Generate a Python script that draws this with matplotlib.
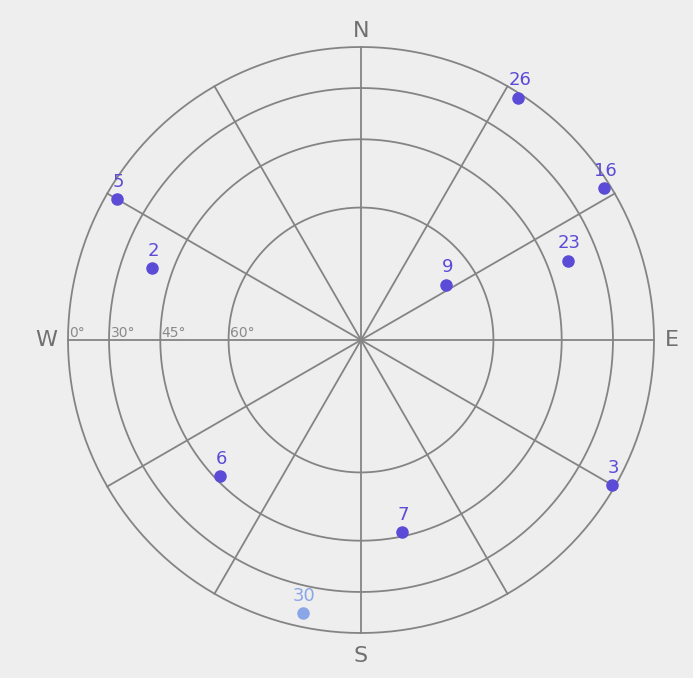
import numpy as np
import matplotlib
matplotlib.use('Agg')
import matplotlib.pyplot as plt

# satellites: PRN, azimuth (deg), elevation (deg)
prn = ['26', '16', '23', '9', '5', '2', '6', '7', '30', '3']
azimuth = [33, 58, 69, 57, 300, 289, 226, 168, 192, 120]
elevation = [3, 5, 39, 67, 8, 39, 46, 46, 10, 2]
in_use = [True, True, True, True, True, True, True, True, False, True]

# elevation rings and their radius fraction as drawn
ring_elev = [0, 30, 45, 60]
ring_labels = ['0°', '30°', '45°', '60°']
ring_frac = [1.0, 0.86, 0.685, 0.452]
compass = ['N', 'E', 'S', 'W']

bg = '#eeeeee'
grid = '#848484'


def elev_to_r(e):
    return np.interp(e, [0, 30, 45, 60, 90], [1.0, 0.86, 0.685, 0.452, 0.0])


fig = plt.figure(figsize=(6.93, 6.78), dpi=100, facecolor=bg)
R = 293
cx, cy = 361, 340
ax = fig.add_axes([(cx - R) / 693, (678 - cy - R) / 678, 2 * R / 693, 2 * R / 678],
                  projection='polar')
ax.set_facecolor(bg)
ax.set_theta_zero_location('N')
ax.set_theta_direction(-1)
ax.set_ylim(0, 1)
ax.grid(False)
ax.set_xticks([])
ax.set_yticks([])
ax.spines['polar'].set_visible(False)

th = np.linspace(0, 2 * np.pi, 361)
for f in ring_frac:
    ax.plot(th, np.full_like(th, f), color=grid, lw=1.3, zorder=1, clip_on=False)
for a in range(0, 360, 30):
    ax.plot([0, np.radians(a)], [0, 1], color=grid, lw=1.3, zorder=1, clip_on=False)

for f, lab in zip(ring_frac, ring_labels):
    ax.text(np.radians(270), f - 0.005, lab, color='#8a8a8a', fontsize=10,
            ha='left', va='bottom', zorder=2)

for a, lab, off in zip([0, 90, 180, 270], compass, [1.055, 1.062, 1.08, 1.075]):
    ax.text(np.radians(a), off, lab, color='#707070', fontsize=16,
            ha='center', va='center')

for p, az, el, used in zip(prn, azimuth, elevation, in_use):
    c = '#5b4bd6' if used else '#8aa6e6'
    r = elev_to_r(el)
    ax.plot(np.radians(az), r, 'o', color=c, ms=8, zorder=3, clip_on=False)
    ax.annotate(p, (np.radians(az), r), xytext=(1, 6), textcoords='offset points',
                color=c, fontsize=13, ha='center', va='bottom', zorder=3,
                annotation_clip=False)

fig.savefig('out.png', dpi=100, facecolor=bg)
